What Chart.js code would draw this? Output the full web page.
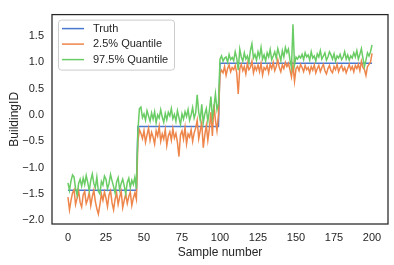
<!DOCTYPE html>
<html>
<head>
<meta charset="utf-8">
<script src="https://cdn.jsdelivr.net/npm/chart.js@4/dist/chart.umd.min.js"></script>
<style>
  html, body { margin: 0; padding: 0; background: #fff; }
  #wrap { width: 394px; height: 265px; }
</style>
</head>
<body>
<div id="wrap"><canvas id="myChart" width="394" height="265"></canvas></div>
<script>
const xTicks = [0, 25, 50, 75, 100, 125, 150, 175, 200];
const yTicks = [-2.0, -1.5, -1.0, -0.5, 0.0, 0.5, 1.0, 1.5];
const labels = ['Truth', '2.5% Quantile', '97.5% Quantile'];
const colors = ['#4878d0', '#ee854a', '#6acc64'];

// truth: step values per sample (0..200)
const truth = [
  -1.43, -1.43, -1.43, -1.43, -1.43, -1.43, -1.43, -1.43, -1.43, -1.43,
  -1.43, -1.43, -1.43, -1.43, -1.43, -1.43, -1.43, -1.43, -1.43, -1.43,
  -1.43, -1.43, -1.43, -1.43, -1.43, -1.43, -1.43, -1.43, -1.43, -1.43,
  -1.43, -1.43, -1.43, -1.43, -1.43, -1.43, -1.43, -1.43, -1.43, -1.43,
  -1.43, -1.43, -1.43, -1.43, -1.43, -1.43,
  -0.22, -0.22, -0.22, -0.22, -0.22, -0.22, -0.22, -0.22, -0.22, -0.22,
  -0.22, -0.22, -0.22, -0.22, -0.22, -0.22, -0.22, -0.22, -0.22, -0.22,
  -0.22, -0.22, -0.22, -0.22, -0.22, -0.22, -0.22, -0.22, -0.22, -0.22,
  -0.22, -0.22, -0.22, -0.22, -0.22, -0.22, -0.22, -0.22, -0.22, -0.22,
  -0.22, -0.22, -0.22, -0.22, -0.22, -0.22, -0.22, -0.22, -0.22, -0.22,
  -0.22, -0.22, -0.22, -0.22,
  0.98, 0.98, 0.98, 0.98, 0.98, 0.98, 0.98, 0.98, 0.98, 0.98,
  0.98, 0.98, 0.98, 0.98, 0.98, 0.98, 0.98, 0.98, 0.98, 0.98,
  0.98, 0.98, 0.98, 0.98, 0.98, 0.98, 0.98, 0.98, 0.98, 0.98,
  0.98, 0.98, 0.98, 0.98, 0.98, 0.98, 0.98, 0.98, 0.98, 0.98,
  0.98, 0.98, 0.98, 0.98, 0.98, 0.98, 0.98, 0.98, 0.98, 0.98,
  0.98, 0.98, 0.98, 0.98, 0.98, 0.98, 0.98, 0.98, 0.98, 0.98,
  0.98, 0.98, 0.98, 0.98, 0.98, 0.98, 0.98, 0.98, 0.98, 0.98,
  0.98, 0.98, 0.98, 0.98, 0.98, 0.98, 0.98, 0.98, 0.98, 0.98,
  0.98, 0.98, 0.98, 0.98, 0.98, 0.98, 0.98, 0.98, 0.98, 0.98,
  0.98, 0.98, 0.98, 0.98, 0.98, 0.98, 0.98, 0.98, 0.98, 0.98,
  0.98
];

const lower = [
  -1.56, -1.80, -1.62, -1.48, -1.42, -1.70, -1.58, -1.44, -1.66, -1.75,
  -1.52, -1.45, -1.68, -1.60, -1.47, -1.72, -1.55, -1.43, -1.64, -1.78,
  -1.88, -1.70, -1.50, -1.62, -1.46, -1.58, -1.74, -1.52, -1.44, -1.67,
  -1.80, -1.60, -1.48, -1.70, -1.56, -1.45, -1.76, -1.62, -1.50, -1.68,
  -1.55, -1.46, -1.72, -1.58, -1.48, -1.60,
  -0.50, -0.28, -0.35, -0.45, -0.30, -0.52, -0.38, -0.25, -0.48, -0.33,
  -0.42, -0.55, -0.30, -0.40, -0.22, -0.50, -0.36, -0.46, -0.28, -0.58,
  -0.40, -0.32, -0.48, -0.26, -0.44, -0.35, -0.52, -0.79, -0.38, -0.30,
  -0.46, -0.24, -0.55, -0.36, -0.42, -0.28, -0.50, -0.34, -0.25, -0.10,
  -0.45, -0.30, -0.15, -0.62, -0.38, -0.20, -0.48, -0.26, 0.05, -0.40,
  0.20, -0.10, -0.30, 0.00,
  0.78, 0.85, 0.80, 0.92, 0.75, 0.88, 0.95, 0.82, 0.90, 0.86,
  0.94, 0.80, 0.40, 0.88, 0.96, 0.84, 0.92, 0.78, 0.98, 0.86,
  0.90, 1.02, 0.80, 0.92, 0.85, 0.95, 0.82, 0.98, 0.76, 0.90,
  0.86, 0.94, 0.80, 0.96, 0.88, 1.00, 0.84, 0.92, 1.05, 0.90,
  0.82, 0.95, 0.88, 1.00, 0.92, 0.98, 0.86, 0.72, 0.95, 0.64,
  0.88, 0.92, 0.84, 0.96, 0.90, 0.82, 0.94, 0.86, 0.90, 0.80,
  0.92, 0.85, 0.95, 0.80, 0.88, 0.94, 0.82, 0.90, 0.96, 0.84,
  0.78, 0.88, 0.94, 0.84, 0.80, 0.92, 0.86, 0.96, 0.82, 0.90,
  0.94, 0.84, 0.90, 0.80, 0.88, 0.96, 0.86, 0.92, 0.82, 0.94,
  0.88, 0.96, 0.84, 1.02, 0.90, 0.86, 0.75, 0.92, 0.96, 1.00,
  1.17
];

const upper = [
  -1.29, -1.43, -1.25, -1.14, -1.18, -1.40, -1.52, -1.30, -1.22, -1.35,
  -1.20, -1.32, -1.15, -1.28, -1.44, -1.24, -1.12, -1.30, -1.38, -1.18,
  -1.45, -1.50, -1.26, -1.33, -1.16, -1.22, -1.40, -1.30, -1.13, -1.25,
  -1.36, -1.48, -1.27, -1.19, -1.42, -1.30, -1.22, -1.34, -1.50, -1.28,
  -1.20, -1.38, -1.24, -1.32, -1.18, -1.40,
  -0.30, 0.12, 0.15, -0.05, 0.02, -0.10, 0.08, -0.02, -0.12, 0.04,
  -0.08, 0.06, -0.15, 0.00, -0.06, 0.10, -0.04, -0.14, 0.03, -0.09,
  0.05, -0.02, 0.12, -0.07, 0.01, -0.12, 0.08, -0.05, -0.18, 0.02,
  -0.08, 0.06, -0.03, 0.10, -0.10, 0.00, 0.14, -0.06, 0.04, 0.38,
  0.05, -0.10, 0.20, -0.15, 0.02, 0.12, -0.12, 0.08, 0.35, -0.05,
  0.15, 0.40, 0.10, 0.22,
  1.06, 1.12, 1.02, 1.08, 1.10, 1.00, 1.15, 1.05, 1.09, 1.03,
  1.20, 1.08, 0.85, 1.25, 1.10, 1.02, 1.18, 1.06, 1.12, 1.00,
  1.22, 1.35, 1.08, 1.15, 1.04, 1.20, 1.10, 1.28, 1.06, 1.14,
  1.02, 1.18, 1.10, 1.24, 1.05, 1.12, 1.20, 1.08, 1.26, 1.15,
  1.03, 1.22, 1.10, 1.28, 1.18, 1.25, 1.05, 0.90, 1.72, 0.95,
  1.10, 1.06, 1.12, 1.08, 1.15, 1.05, 1.18, 1.10, 1.14, 1.04,
  1.20, 1.08, 1.12, 1.02, 1.16, 1.10, 1.22, 1.06, 1.12, 1.18,
  1.04, 1.10, 1.20, 1.14, 1.06, 1.16, 1.02, 1.12, 1.08, 1.15,
  1.05, 1.10, 1.20, 1.06, 1.14, 1.04, 1.12, 1.08, 1.18, 1.10,
  1.22, 1.06, 1.15, 1.26, 1.08, 0.92, 1.04, 1.18, 1.12, 1.20,
  1.33
];

const toPoints = arr => arr.map((v, i) => ({ x: i, y: v }));

const frame = {
  id: 'frame',
  afterDraw(chart) {
    const a = chart.chartArea;
    const ctx = chart.ctx;
    ctx.save();
    ctx.strokeStyle = '#262626';
    ctx.lineWidth = 1.25;
    ctx.strokeRect(a.left, a.top, a.right - a.left, a.bottom - a.top);
    ctx.restore();
  }
};

const innerLegend = {
  id: 'innerLegend',
  afterDatasetsDraw(chart) {
    const a = chart.chartArea;
    const ctx = chart.ctx;
    const x = a.left + 6, y = a.top + 5, w = 116, h = 50;
    ctx.save();
    ctx.fillStyle = 'rgba(255,255,255,0.8)';
    ctx.strokeStyle = '#cccccc';
    ctx.lineWidth = 1;
    ctx.beginPath();
    ctx.roundRect(x + 0.5, y + 0.5, w, h, 3);
    ctx.fill();
    ctx.stroke();
    ctx.font = '11px "Liberation Sans", Arial, sans-serif';
    ctx.textBaseline = 'middle';
    chart.data.datasets.forEach((ds, i) => {
      const ly = y + 9 + i * 15.5;
      ctx.strokeStyle = ds.borderColor;
      ctx.lineWidth = 1.5;
      ctx.beginPath();
      ctx.moveTo(x + 4, ly);
      ctx.lineTo(x + 26, ly);
      ctx.stroke();
      ctx.fillStyle = '#262626';
      ctx.fillText(ds.label, x + 35, ly);
    });
    ctx.restore();
  }
};

const series = [truth, lower, upper];
const data = {
  datasets: series.map((s, i) => ({
    label: labels[i],
    data: toPoints(s),
    borderColor: colors[i],
    borderWidth: 1.5,
    pointRadius: 0,
    tension: 0,
    order: 3 - i
  }))
};

const tickFont = { family: '"Liberation Sans", Arial, sans-serif', size: 11 };
const titleFont = { family: '"Liberation Sans", Arial, sans-serif', size: 12 };

const config = {
  type: 'line',
  data: data,
  plugins: [innerLegend, frame],
  options: {
    responsive: false,
    animation: false,
    layout: { padding: { top: 7, right: 6, left: 0, bottom: 0 } },
    plugins: { legend: { display: false }, tooltip: { enabled: false } },
    scales: {
      x: {
        type: 'linear',
        min: -10.5,
        max: 210.5,
        afterBuildTicks: s => { s.ticks = xTicks.map(v => ({ value: v })); },
        afterFit: s => { s.height = 41; },
        grid: { display: false, drawTicks: false, tickLength: 0 },
        border: { display: false },
        ticks: { font: tickFont, color: '#262626', padding: 7, maxRotation: 0 },
        title: { display: true, text: 'Sample number', font: titleFont, color: '#262626', padding: { top: 2, bottom: 5 } }
      },
      y: {
        min: -2.07,
        max: 1.905,
        afterBuildTicks: s => { s.ticks = yTicks.map(v => ({ value: v })); },
        afterFit: s => { s.width = 52; },
        grid: { display: false, drawTicks: false, tickLength: 0 },
        border: { display: false },
        ticks: {
          font: tickFont, color: '#262626', padding: 8,
          callback: v => v.toFixed(1).replace('-', '\u2212')
        },
        title: { display: true, text: 'BuildingID', font: titleFont, color: '#262626', padding: { top: 7, bottom: 2 } }
      }
    }
  }
};

const myChart = new Chart(document.getElementById('myChart'), config);
</script>
</body>
</html>
